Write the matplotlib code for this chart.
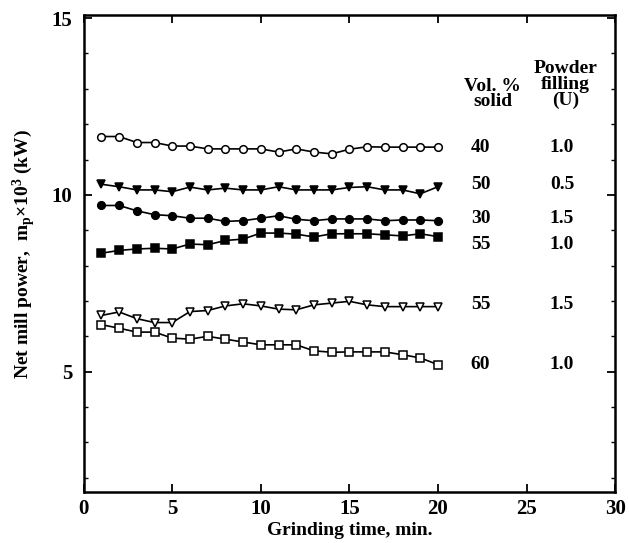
import numpy as np
import matplotlib.pyplot as plt
from matplotlib.ticker import MultipleLocator

plt.rcParams['font.family'] = ['Liberation Serif', 'DejaVu Serif']
plt.rcParams['font.weight'] = 'bold'
plt.rcParams['mathtext.fontset'] = 'custom'
plt.rcParams['mathtext.rm'] = 'Liberation Serif:bold'
plt.rcParams['mathtext.it'] = 'Liberation Serif:bold'
plt.rcParams['mathtext.bf'] = 'Liberation Serif:bold'
plt.rcParams['mathtext.default'] = 'rm'

# grinding time, min
time = np.arange(1, 21)

# net mill power (kW x 1e3) for each run
p_40_10 = [11.65, 11.65, 11.48, 11.48, 11.38, 11.38, 11.30, 11.30, 11.30, 11.30,
           11.21, 11.30, 11.21, 11.16, 11.29, 11.36, 11.35, 11.35, 11.35, 11.35]
p_50_05 = [10.30, 10.23, 10.14, 10.14, 10.09, 10.22, 10.14, 10.19, 10.14, 10.14,
           10.23, 10.14, 10.14, 10.14, 10.21, 10.23, 10.14, 10.14, 10.03, 10.23]
p_30_15 = [9.70, 9.70, 9.55, 9.44, 9.41, 9.34, 9.34, 9.25, 9.27, 9.34,
           9.41, 9.31, 9.27, 9.32, 9.32, 9.32, 9.27, 9.29, 9.29, 9.27]
p_55_10 = [8.35, 8.43, 8.47, 8.49, 8.47, 8.61, 8.59, 8.71, 8.75, 8.92,
           8.92, 8.89, 8.81, 8.90, 8.90, 8.90, 8.87, 8.84, 8.90, 8.82]
p_55_15 = [6.59, 6.69, 6.50, 6.39, 6.39, 6.70, 6.73, 6.86, 6.92, 6.86,
           6.77, 6.75, 6.89, 6.94, 6.99, 6.89, 6.84, 6.84, 6.84, 6.84]
p_60_10 = [6.33, 6.23, 6.12, 6.12, 5.95, 5.92, 6.00, 5.92, 5.84, 5.76,
           5.76, 5.76, 5.59, 5.55, 5.56, 5.56, 5.56, 5.48, 5.39, 5.20]

vol_solid = ['40', '50', '30', '55', '55', '60']
powder_u = ['1.0', '0.5', '1.5', '1.0', '1.5', '1.0']

series = [p_40_10, p_50_05, p_30_15, p_55_10, p_55_15, p_60_10]
markers = ['o', 'v', 'o', 's', 'v', 's']
faces = ['white', 'black', 'black', 'black', 'white', 'white']
label_shift = [0.0, 0.07, 0.05, -0.23, 0.05, 0.0]

fig = plt.figure(figsize=(6.29, 5.43), dpi=100)
ax = fig.add_axes([0.133, 0.094, 0.845, 0.878])

for vals, m, fc in zip(series, markers, faces):
    ax.plot(time, vals, color='black', lw=1.2, marker=m, ms=5.5 if m != 'v' else 6,
            mfc=fc, mec='black', mew=1.1)

# right hand labels
for vals, vs, u, dy in zip(series, vol_solid, powder_u, label_shift):
    ax.text(22.4, vals[-1] + dy, vs, ha='center', va='center', fontsize=14, fontweight='bold')
    ax.text(27.0, vals[-1] + dy, u, ha='center', va='center', fontsize=14, fontweight='bold')

ax.text(23.1, 12.85, 'Vol. %\nsolid', ha='center', va='center', fontsize=14,
        fontweight='bold', linespacing=0.85)
ax.text(27.2, 13.12, 'Powder\nfilling\n(U)', ha='center', va='center', fontsize=14,
        fontweight='bold', linespacing=0.88)

ax.set_xlim(0, 30)
ax.set_ylim(1.6, 15.08)
ax.set_xticks([0, 5, 10, 15, 20, 25, 30])
ax.set_yticks([5, 10, 15])
ax.yaxis.set_minor_locator(MultipleLocator(1))
ax.tick_params(which='both', direction='in', top=True, right=True, labelsize=15)
ax.tick_params(axis='y', pad=8)
ax.tick_params(axis='x', pad=5)
ax.tick_params(which='major', length=6, width=1.3)
ax.tick_params(which='minor', length=3, width=1.0)
for lab in ax.get_xticklabels() + ax.get_yticklabels():
    lab.set_fontweight('bold')
for sp in ax.spines.values():
    sp.set_linewidth(1.8)

ax.set_xlabel('Grinding time, min.', fontsize=14, fontweight='bold', labelpad=2)
ax.set_ylabel(r'Net mill power,  m$_\mathrm{p}$$\times$10$^\mathrm{3}$ (kW)', fontsize=14,
              fontweight='bold', labelpad=10)

fig.savefig('out.png', dpi=100)
